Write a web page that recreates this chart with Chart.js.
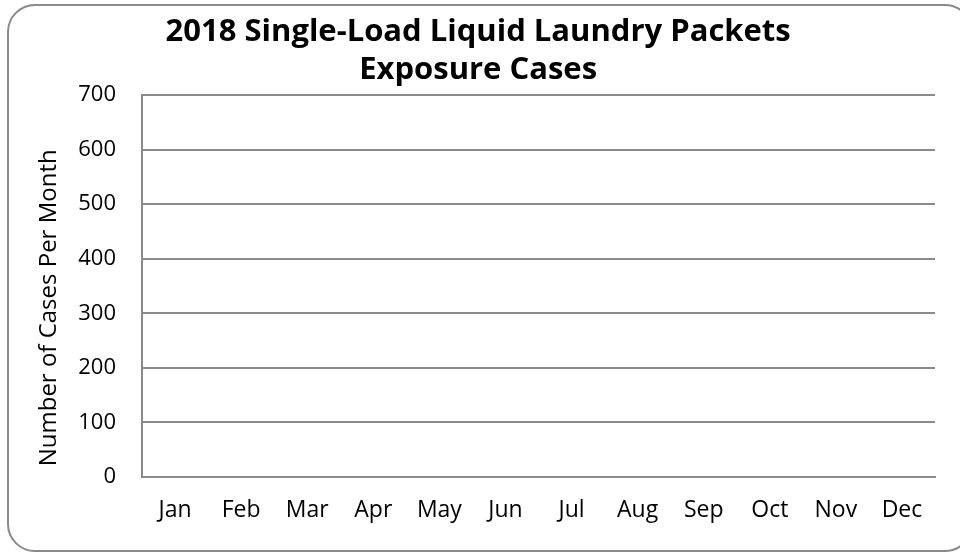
<!DOCTYPE html>
<html>
<head>
<meta charset="utf-8">
<script src="https://cdn.jsdelivr.net/npm/chart.js@4/dist/chart.umd.min.js"></script>
<style>
  html, body { margin: 0; padding: 0; background: #fff; }
  #wrap { position: relative; width: 960px; height: 554px; overflow: hidden; }
  #frame {
    position: absolute; left: 7px; top: 4px; width: 966px; height: 548px;
    border: 2px solid #8a8a8a; border-radius: 28px; box-sizing: border-box;
  }
  canvas { position: absolute; left: 0; top: 0; }
</style>
</head>
<body>
<div id="wrap">
  <div id="frame"></div>
  <canvas id="chart" width="960" height="554"></canvas>
</div>
<script>
// months on the x axis
var months = ['Jan', 'Feb', 'Mar', 'Apr', 'May', 'Jun', 'Jul', 'Aug', 'Sep', 'Oct', 'Nov', 'Dec'];
// no bars are visible in the picture, so every month is empty
var cases = [null, null, null, null, null, null, null, null, null, null, null, null];
var yTicks = [0, 100, 200, 300, 400, 500, 600, 700];
var titleLines = ['2018 Single-Load Liquid Laundry Packets', 'Exposure Cases'];
// leading spaces nudge the centred title right, trailing ones push the y title down
var lead = '\u00a0\u00a0\u2009';
var yTitle = 'Number of Cases Per Month' + '\u00a0'.repeat(7);

const data = {
  labels: months,
  datasets: [{
    label: 'Cases',
    data: cases,
    backgroundColor: '#4472c4'
  }]
};

const config = {
  type: 'bar',
  data: data,
  options: {
    responsive: false,
    animation: false,
    layout: { padding: { left: 0, right: 25, top: 0, bottom: 0 } },
    plugins: {
      legend: { display: false },
      tooltip: { enabled: false },
      title: {
        display: true,
        text: titleLines.map(function(t) { return lead + t; }),
        color: '#000',
        font: { family: 'Open Sans', size: 31, weight: 'bold', lineHeight: '38px' },
        padding: { top: 13, bottom: 6 }
      }
    },
    scales: {
      x: {
        offset: true,
        afterFit: function(scale) { scale.height = 77; },
        grid: { display: false, drawTicks: false },
        border: { display: true, color: '#8a8a8a', width: 2 },
        ticks: { color: '#000', font: { family: 'Open Sans', size: 23 }, padding: 20, maxRotation: 0 }
      },
      y: {
        min: 0,
        max: 700,
        afterBuildTicks: function(scale) {
          scale.ticks = yTicks.map(function(v) { return { value: v }; });
        },
        afterFit: function(scale) { scale.width = 142; },
        grid: { color: '#8a8a8a', lineWidth: 2, drawTicks: false },
        border: { display: true, color: '#8a8a8a', width: 2 },
        ticks: { color: '#000', font: { family: 'Open Sans', size: 22 }, padding: 26 },
        title: {
          display: true,
          text: yTitle,
          color: '#000',
          font: { family: 'Open Sans', size: 24 },
          padding: { top: 35, bottom: 0 }
        }
      }
    }
  }
};

var myChart = new Chart(document.getElementById('chart'), config);
</script>
</body>
</html>
